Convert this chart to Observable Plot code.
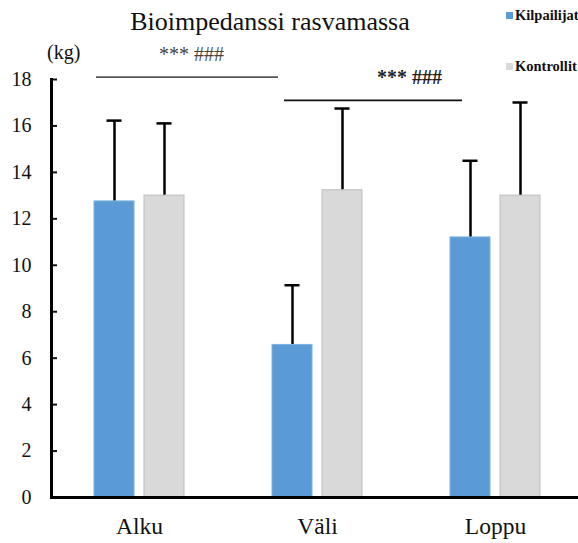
<!DOCTYPE html>
<html>
<head>
<meta charset="utf-8">
<script src="https://cdn.jsdelivr.net/npm/d3@7"></script>
<script src="https://cdn.jsdelivr.net/npm/@observablehq/plot@0.6"></script>
<style>
  body { margin: 0; background: #fff; }
  #wrap { position: relative; width: 578px; height: 543px; font-family: "Liberation Serif", "Times New Roman", serif; color: #111; }
  #wrap svg { position: absolute; left: 0; top: 0; overflow: visible; }
  #wrap svg text { font-family: "Liberation Serif", "Times New Roman", serif; }
  .title { position: absolute; left: 0; top: 9px; width: 540px; text-align: center; font-size: 26px; line-height: 1; }
  .unit { position: absolute; left: 47px; top: 42px; font-size: 20px; line-height: 1; }
  .legend { position: absolute; left: 506px; font-size: 14.5px; font-weight: bold; line-height: 1; display: flex; align-items: center; white-space: nowrap; }
  .legend i { display: inline-block; width: 7px; height: 7px; margin-right: 2px; }
</style>
</head>
<body>
<div id="wrap"></div>
<script>
// Bioimpedance fat mass (kg), mean and standard deviation per measurement point
const categories = ["Alku", "Väli", "Loppu"];
const groups = ["Kilpailijat", "Kontrollit"];
const kilpailijatMean = [12.75, 6.57, 11.2];
const kilpailijatSd = [3.48, 2.57, 3.3];
const kontrollitMean = [13.0, 13.23, 13.0];
const kontrollitSd = [3.11, 3.52, 4.01];
const yTicks = [0, 2, 4, 6, 8, 10, 12, 14, 16, 18];

// Significance brackets: each spans one band width starting inside the first point
const comparisonFrom = ["Alku", "Väli"];
const comparisonY = [18.1, 17.1];
const comparisonLabel = ["*** ###", "*** ###"];

const colors = {Kilpailijat: "#5B9BD5", Kontrollit: "#D9D9D9"};

const rows = [];
categories.forEach((c, i) => {
  rows.push({category: c, group: "Kilpailijat", mean: kilpailijatMean[i], sd: kilpailijatSd[i]});
  rows.push({category: c, group: "Kontrollit", mean: kontrollitMean[i], sd: kontrollitSd[i]});
});
const blue = rows.filter(d => d.group === "Kilpailijat");
const gray = rows.filter(d => d.group === "Kontrollit");
const comparisons = comparisonFrom.map((f, i) => ({from: f, y: comparisonY[i], label: comparisonLabel[i]}));

const offset = {Kilpailijat: -25, Kontrollit: 25};

function seriesMarks(data, group) {
  const dx = offset[group];
  return [
    Plot.ruleX(data, {x: "category", y1: "mean", y2: d => d.mean + d.sd, dx, stroke: "#000", strokeWidth: 2.5}),
    Plot.barY(data, {x: "category", y: "mean", dx, insetLeft: 69, insetRight: 69,
      fill: colors[group], stroke: group === "Kontrollit" ? "#BDBDBD" : "#7FB0DE", strokeWidth: 1}),
    Plot.tickY(data, {x: "category", y: d => d.mean + d.sd, dx, insetLeft: 81.5, insetRight: 81.5, stroke: "#000", strokeWidth: 2.5})
  ];
}

// per-bracket styling: horizontal shift of the line and of its label, colours
const bracketStyle = [
  {lineDx: 46, insetRight: -4, textDx: 52, stroke: "#555", fill: "#444", weight: "normal"},
  {lineDx: 56, insetRight: 0, textDx: 92, stroke: "#111", fill: "#222", weight: "bold"}
];
const bracketMarks = comparisons.flatMap((c, i) => {
  const s = bracketStyle[i];
  return [
    Plot.ruleY([c], {x1: "from", x2: "from", y: "y", dx: s.lineDx, insetRight: s.insetRight, stroke: s.stroke, strokeWidth: 1.8}),
    Plot.text([c], {x: "from", y: "y", text: "label", dx: s.textDx, dy: -23, fontSize: 20, fill: s.fill, fontWeight: s.weight})
  ];
});

const chart = Plot.plot({
  width: 578,
  height: 543,
  marginTop: 79,
  marginBottom: 46,
  marginLeft: 51,
  marginRight: 0,
  style: "font-family: 'Liberation Serif', 'Times New Roman', serif; font-size: 20px; color: #111; background: transparent;",
  x: {type: "band", domain: categories, range: [50, 584], padding: 0, label: null},
  y: {domain: [0, 18], label: null},
  marks: [
    ...seriesMarks(gray, "Kontrollit"),
    ...seriesMarks(blue, "Kilpailijat"),
    Plot.axisY({ticks: yTicks, tickSize: -6, tickPadding: 26, strokeWidth: 2, label: null, fontSize: 20, fill: "#111"}),
    Plot.axisX({tickSize: 0, tickPadding: 20, label: null, fontSize: 23.5, fill: "#111"}),
    Plot.frame({anchor: "left", stroke: "#000", strokeWidth: 3}),
    Plot.frame({anchor: "bottom", stroke: "#000", strokeWidth: 3}),
    ...bracketMarks
  ]
});

const wrap = document.getElementById("wrap");
wrap.appendChild(chart);

const title = document.createElement("div");
title.className = "title";
title.textContent = "Bioimpedanssi rasvamassa";
wrap.appendChild(title);

const unit = document.createElement("div");
unit.className = "unit";
unit.textContent = "(kg)";
wrap.appendChild(unit);

groups.forEach((g, i) => {
  const item = document.createElement("div");
  item.className = "legend";
  item.style.top = (8 + i * 51) + "px";
  const sw = document.createElement("i");
  sw.style.background = colors[g];
  item.appendChild(sw);
  item.appendChild(document.createTextNode(g));
  wrap.appendChild(item);
});
</script>
</body>
</html>
